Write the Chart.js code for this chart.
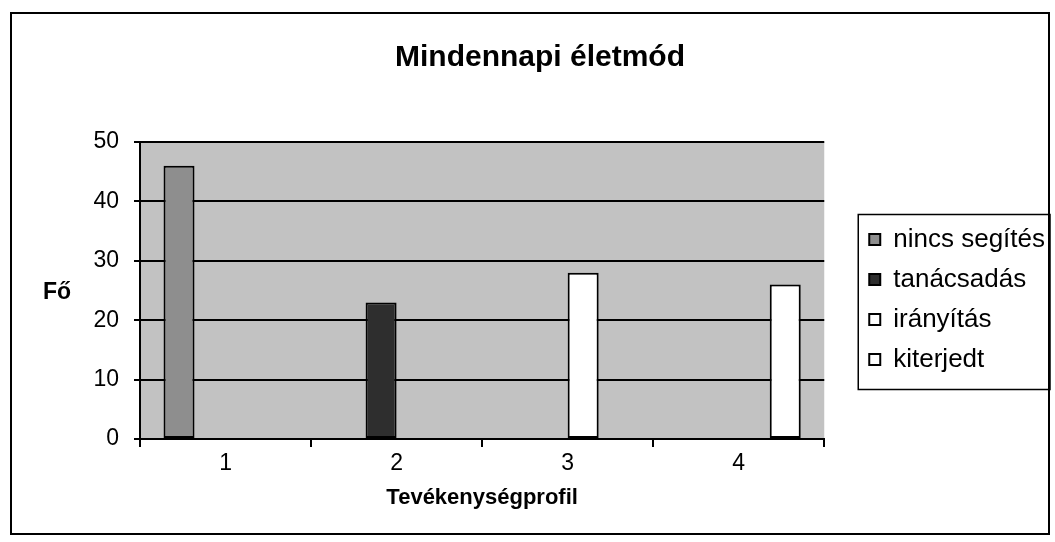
<!DOCTYPE html>
<html>
<head>
<meta charset="utf-8">
<script src="https://cdn.jsdelivr.net/npm/chart.js@4/dist/chart.umd.min.js"></script>
<style>
  html, body { margin: 0; padding: 0; background: #fff; }
  #wrap { width: 1055px; height: 542px; }
</style>
</head>
<body>
<div id="wrap"><canvas id="chart" width="1055" height="542"></canvas></div>
<script>
const categories = ["1", "2", "3", "4"];
const seriesNames = ["nincs segítés", "tanácsadás", "irányítás", "kiterjedt"];
const nincsSegites = [46, null, null, null];
const tanacsadas = [null, 23, null, null];
const iranyitas = [null, null, 28, null];
const kiterjedt = [null, null, null, 26];
const yTicks = [0, 10, 20, 30, 40, 50];

const FONT = "'Liberation Sans', Arial, sans-serif";

const frame = {
  id: "frame",
  beforeDraw(chart) {
    const { ctx, chartArea: a } = chart;
    ctx.save();
    ctx.fillStyle = "#fff";
    ctx.fillRect(0, 0, chart.width, chart.height);
    ctx.fillStyle = "#c2c2c2";
    ctx.fillRect(a.left, a.top, a.right - a.left, a.bottom - a.top);
    ctx.restore();
  },
  afterDraw(chart) {
    const { ctx } = chart;
    ctx.save();
    ctx.strokeStyle = "#000";
    ctx.lineWidth = 2;
    ctx.strokeRect(11, 13, 1038, 521);
    // legend box
    const boxes = chart.legend.legendHitBoxes;
    if (boxes && boxes.length) {
      let l = Infinity, r = -Infinity;
      boxes.forEach(b => { l = Math.min(l, b.left); r = Math.max(r, b.left + b.width); });
      const t = boxes[0].top, bt = boxes[boxes.length - 1].top + boxes[boxes.length - 1].height;
      ctx.lineWidth = 1.5;
      ctx.strokeRect(l - 11, t - 12, r - l + 16, bt - t + 29);
    }
    // y axis title, horizontal
    ctx.fillStyle = "#000";
    ctx.font = "bold 23px " + FONT;
    ctx.textAlign = "center";
    ctx.textBaseline = "middle";
    const y = chart.scales.y;
    ctx.fillText("Fő", 57, (y.top + y.bottom) / 2 + 2);
    ctx.restore();
  }
};

const ctx = document.getElementById("chart");
const bar = (label, data, color) => ({
  label: label,
  data: data,
  backgroundColor: color,
  borderColor: "#000",
  borderWidth: 2,
  borderSkipped: false,
  categoryPercentage: 0.725,
  barPercentage: 1.0,
});

new Chart(ctx, {
  type: "bar",
  data: {
    labels: categories,
    datasets: [
      bar(seriesNames[0], nincsSegites, "#8e8e8e"),
      bar(seriesNames[1], tanacsadas, "#2e2e2e"),
      bar(seriesNames[2], iranyitas, "#ffffff"),
      bar(seriesNames[3], kiterjedt, "#ffffff"),
    ],
  },
  options: {
    responsive: false,
    animation: false,
    layout: { padding: { left: 25, right: 0, top: 20, bottom: 31 } },
    scales: {
      x: {
        grid: { display: true, drawOnChartArea: false, drawTicks: true, tickLength: 8, color: "#000", lineWidth: 2, offset: true },
        border: { display: true, color: "#000", width: 2 },
        ticks: { color: "#000", padding: 3, font: { family: FONT, size: 23 } },
        title: {
          display: true,
          text: "Tevékenységprofil",
          color: "#000",
          padding: { top: 4, bottom: 0 },
          font: { family: FONT, size: 22, weight: "bold" },
        },
      },
      y: {
        min: 0,
        max: 50,
        afterBuildTicks: (s) => { s.ticks = yTicks.map(v => ({ value: v })); },
        afterFit: (s) => { s.width = 115; },
        grid: { color: "#000", lineWidth: 2, tickLength: 6 },
        border: { display: true, color: "#000", width: 2 },
        ticks: { color: "#000", padding: 15, font: { family: FONT, size: 23 } },
      },
      gap: {
        type: "linear",
        position: "right",
        display: false,
        afterFit: (s) => { s.width = 31; },
      },
    },
    plugins: {
      title: {
        display: true,
        text: "Mindennapi életmód",
        color: "#000",
        padding: { top: 20, bottom: 66 },
        font: { family: FONT, size: 30, weight: "bold" },
      },
      legend: {
        position: "right",
        fullSize: false,
        title: { display: true, text: " ", padding: 0, font: { family: FONT, size: 15, lineHeight: 1.2 } },
        labels: {
          color: "#000",
          boxWidth: 11,
          boxHeight: 11,
          padding: 14,
          font: { family: FONT, size: 26 },
        },
      },
      tooltip: { enabled: false },
    },
  },
  plugins: [frame],
});
</script>
</body>
</html>
